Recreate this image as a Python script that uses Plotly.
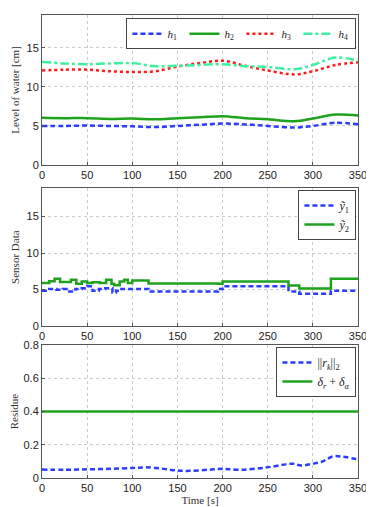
import plotly.graph_objects as go
from plotly.subplots import make_subplots

# top panel: water levels
t_h = [0, 25, 50, 75, 100, 125, 150, 175, 200, 225, 250, 280, 300, 325, 350]
h1 = [5.0, 5.0, 5.05, 5.0, 4.95, 4.85, 5.0, 5.15, 5.3, 5.2, 5.0, 4.8, 5.0, 5.4, 5.2]
h2 = [6.05, 6.0, 6.0, 5.9, 5.95, 5.85, 6.0, 6.1, 6.25, 6.0, 5.85, 5.6, 5.95, 6.45, 6.35]
h3 = [12.1, 12.2, 12.2, 12.0, 11.9, 12.0, 12.6, 13.05, 13.35, 12.7, 12.1, 11.6, 12.0, 12.8, 13.15]
h4 = [13.2, 13.0, 12.9, 13.0, 13.05, 12.65, 12.7, 12.8, 12.9, 12.65, 12.55, 12.25, 12.8, 13.75, 13.35]

# middle panel: sensor data
t_y1 = [0, 8, 16, 23, 30, 37, 44, 50, 56, 63, 70, 78, 82, 88, 95, 100, 118, 195, 200, 273, 285, 320, 350]
y1 = [4.85, 5.1, 5.0, 5.1, 4.75, 5.1, 5.2, 5.45, 4.85, 5.1, 5.2, 4.6, 4.85, 5.1, 5.1, 5.1, 4.75, 5.1,
      5.45, 4.75, 4.45, 4.85, 4.85]
t_y2 = [0, 8, 14, 20, 27, 32, 38, 44, 50, 56, 64, 71, 77, 80, 86, 91, 95, 100, 118, 195, 200, 273, 285, 320, 350]
y2 = [5.9, 6.15, 6.5, 6.05, 6.05, 6.35, 5.8, 6.1, 5.9, 6.0, 5.9, 6.35, 5.8, 5.6, 6.1, 6.35, 5.9, 6.25,
      5.85, 5.8, 6.12, 5.55, 5.15, 6.5, 6.5]

# bottom panel: residue
t_r = [0, 25, 50, 75, 100, 115, 135, 150, 163, 185, 200, 220, 248, 270, 278, 287, 300, 311, 322, 333, 348, 350]
r_norm = [0.051, 0.049, 0.052, 0.055, 0.06, 0.064, 0.055, 0.045, 0.043, 0.05, 0.055, 0.05, 0.063, 0.082,
          0.086, 0.075, 0.086, 0.1, 0.13, 0.128, 0.114, 0.112]
t_thr = [0, 350]
thr = [0.4, 0.4]

blue = '#2a3cff'
green = '#1fa31f'
red = '#ff1a1a'
cyan = '#3ff0a0'
dash_b = '5px,3px'

fig = make_subplots(rows=3, cols=1, vertical_spacing=0.05)

fig.add_trace(go.Scatter(x=t_h, y=h1, name='<i>h</i><sub>1</sub>', mode='lines', line_shape='spline',
                         line=dict(color=blue, width=2.5, dash=dash_b), legend='legend'), 1, 1)
fig.add_trace(go.Scatter(x=t_h, y=h2, name='<i>h</i><sub>2</sub>', mode='lines', line_shape='spline',
                         line=dict(color=green, width=2.5), legend='legend'), 1, 1)
fig.add_trace(go.Scatter(x=t_h, y=h3, name='<i>h</i><sub>3</sub>', mode='lines', line_shape='spline',
                         line=dict(color=red, width=2.5, dash='dot'), legend='legend'), 1, 1)
fig.add_trace(go.Scatter(x=t_h, y=h4, name='<i>h</i><sub>4</sub>', mode='lines', line_shape='spline',
                         line=dict(color=cyan, width=2.5, dash='dashdot'), legend='legend'), 1, 1)

fig.add_trace(go.Scatter(x=t_y1, y=y1, name='<i>ỹ</i><sub>1</sub>', mode='lines', line_shape='hv',
                         line=dict(color=blue, width=2.5, dash=dash_b), legend='legend2'), 2, 1)
fig.add_trace(go.Scatter(x=t_y2, y=y2, name='<i>ỹ</i><sub>2</sub>', mode='lines', line_shape='hv',
                         line=dict(color=green, width=2.5), legend='legend2'), 2, 1)

fig.add_trace(go.Scatter(x=t_r, y=r_norm, name='||<i>r<sub>k</sub></i>||<sub>2</sub>', mode='lines',
                         line_shape='spline', line=dict(color=blue, width=2.5, dash=dash_b),
                         legend='legend3'), 3, 1)
fig.add_trace(go.Scatter(x=t_thr, y=thr, name='<i>δ<sub>r</sub></i> + <i>δ<sub>α</sub></i>', mode='lines',
                         line=dict(color=green, width=2.5), legend='legend3'), 3, 1)

axis_common = dict(showline=True, mirror=True, linecolor='#555555', linewidth=1,
                   ticks='inside', ticklen=3, tickcolor='#555555', automargin=False,
                   showgrid=True, gridcolor='#cccccc', griddash='dot', gridwidth=1,
                   zeroline=False, tickfont=dict(family='Liberation Sans, Arial', size=11, color='#222'))

domains = [[0.676, 1.0], [0.328, 0.626], [0.0, 0.287]]
for i in range(3):
    fig.update_xaxes(range=[0, 350], dtick=50, domain=[0, 1], row=i + 1, col=1, **axis_common)
    fig.update_yaxes(domain=domains[i], row=i + 1, col=1, **axis_common)

title_font = dict(family='Liberation Serif, DejaVu Serif', size=11, color='#333')
fig.update_yaxes(range=[0, 19.2], tickvals=[0, 5, 10, 15], row=1, col=1,
                 title=dict(text='Level of water [cm]', font=title_font, standoff=4))
fig.update_yaxes(range=[0, 18.9], tickvals=[0, 5, 10, 15], row=2, col=1,
                 title=dict(text='Sensor Data', font=title_font, standoff=4))
fig.update_yaxes(range=[0, 0.8], dtick=0.2, row=3, col=1,
                 title=dict(text='Residue', font=title_font, standoff=4))
fig.update_xaxes(row=3, col=1, title=dict(text='Time [s]', font=title_font, standoff=2))

leg_common = dict(bgcolor='white', bordercolor='#444444', borderwidth=1,
                  xanchor='right', yanchor='top', itemwidth=30, tracegroupgap=0)
leg_font = dict(family='Liberation Serif, DejaVu Serif', size=12, color='#222')

# the page adds an 8px body margin, so the figure is sized to fit inside the window
fig.update_layout(
    width=366, height=499,
    margin=dict(l=34, r=16, t=7, b=29, autoexpand=False),
    plot_bgcolor='white', paper_bgcolor='white',
    legend=dict(x=0.995, y=0.993, orientation='h', entrywidth=12,
                font=dict(family='Liberation Serif, DejaVu Serif', size=11, color='#222'), **leg_common),
    legend2=dict(x=0.995, y=0.622, font=leg_font, **leg_common),
    legend3=dict(x=0.995, y=0.283, font=leg_font, **leg_common),
)

fig.write_html("out.html")
